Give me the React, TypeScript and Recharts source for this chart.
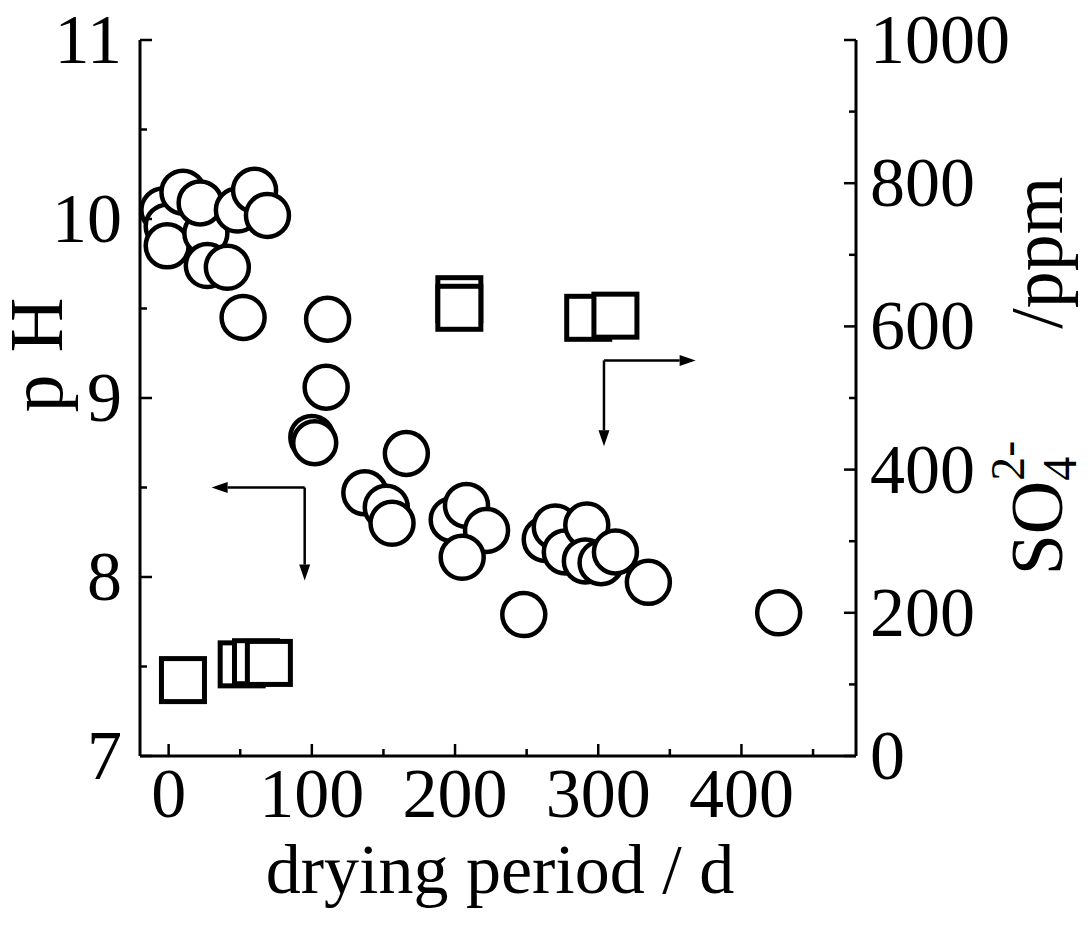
import { ScatterChart, Scatter, XAxis, YAxis, ReferenceLine } from "recharts";

const FONT = '"Liberation Serif", "Times New Roman", serif';

// pH (circles, left axis)
const phDays = [
  -4, -1, -1, 26, 10, 22, 48, 60, 69, 27, 41, 52, 111, 110, 100, 102, 166, 137, 152, 156,
  198, 208, 222, 205, 248, 263, 270, 277, 292, 291, 302, 312, 335, 426,
];
const phValues = [
  10.05, 9.96, 9.85, 9.92, 10.15, 10.09, 10.05, 10.16, 10.02, 9.74, 9.73, 9.45, 9.44, 9.06, 8.78,
  8.75, 8.69, 8.47, 8.39, 8.3, 8.32, 8.4, 8.26, 8.11, 7.79, 8.21, 8.28, 8.14, 8.29, 8.09, 8.08,
  8.14, 7.97, 7.8,
];

// sulfate (squares, right axis)
const so4Days = [10, 51, 61, 70, 203, 203, 293, 312];
const so4Values = [106, 128, 131, 130, 638, 626, 612, 615];

const xTicks = [0, 50, 100, 150, 200, 250, 300, 350, 400, 450];
const phTicks = [7, 7.5, 8, 8.5, 9, 9.5, 10, 10.5, 11];
const so4Ticks = [0, 100, 200, 300, 400, 500, 600, 700, 800, 900, 1000];

// annotation arrows: [cornerDay, cornerPH, endDay, endPH] (left axis units)
const arrowLeft = [95, 8.5, 30, 7.98];
const arrowRight = [304, 9.21, 368, 8.73];

const phData = phDays.map((x, i) => ({ x, y: phValues[i] }));
const so4Data = so4Days.map((x, i) => ({ x, y: so4Values[i] }));

const AXIS = { stroke: "#000", strokeWidth: 3 };
const TICK_FS = 70;

const BottomTick = (p: any) => {
  const v = p.payload.value;
  const major = v % 100 === 0;
  return (
    <g>
      <line x1={p.x} x2={p.x} y1={p.y} y2={p.y - (major ? 12 : 7)} stroke="#000" strokeWidth={2.5} />
      {major && (
        <text x={p.x} y={p.y + 61} textAnchor="middle" fontSize={TICK_FS} fontFamily={FONT} fill="#000">
          {v}
        </text>
      )}
    </g>
  );
};

const TopTick = (p: any) => {
  const major = p.payload.value % 100 === 0;
  return <line x1={p.x} x2={p.x} y1={p.y} y2={p.y + (major ? 12 : 7)} stroke="#000" strokeWidth={2.5} />;
};

const LeftTick = (p: any) => {
  const v = p.payload.value;
  const major = Number.isInteger(v);
  return (
    <g>
      <line x1={p.x} x2={p.x + (major ? 12 : 7)} y1={p.y} y2={p.y} stroke="#000" strokeWidth={2.5} />
      {major && (
        <text x={p.x - 18} y={p.y + 23} textAnchor="end" fontSize={TICK_FS} fontFamily={FONT} fill="#000">
          {v}
        </text>
      )}
    </g>
  );
};

const RightTick = (p: any) => {
  const v = p.payload.value;
  const major = v % 200 === 0;
  return (
    <g>
      <line x1={p.x} x2={p.x - (major ? 12 : 7)} y1={p.y} y2={p.y} stroke="#000" strokeWidth={2.5} />
      {major && (
        <text x={p.x + 14} y={p.y + 23} textAnchor="start" fontSize={TICK_FS} fontFamily={FONT} fill="#000">
          {v}
        </text>
      )}
    </g>
  );
};

const arrowShape = (p: any) => {
  const { x1, y1, x2, y2 } = p;
  const ang = Math.atan2(y2 - y1, x2 - x1);
  const L = 16;
  const W = 5.5;
  const bx = x2 - L * Math.cos(ang);
  const by = y2 - L * Math.sin(ang);
  const nx = -Math.sin(ang) * W;
  const ny = Math.cos(ang) * W;
  return (
    <g>
      <line x1={x1} y1={y1} x2={bx} y2={by} stroke="#000" strokeWidth={2.5} />
      <polygon points={`${x2},${y2} ${bx + nx},${by + ny} ${bx - nx},${by - ny}`} fill="#000" />
    </g>
  );
};

const circleShape = (p: any) => (
  <circle cx={p.cx} cy={p.cy} r={21.5} fill="#fff" stroke="#000" strokeWidth={4.5} />
);

const squareShape = (p: any) => (
  <rect x={p.cx - 21.5} y={p.cy - 21.5} width={43} height={43} fill="#fff" stroke="#000" strokeWidth={5} />
);

const XTitle = () => (
  <text x={500} y={893} textAnchor="middle" fontSize={70} fontFamily={FONT} fill="#000">
    drying period / d
  </text>
);

const LeftTitle = () => (
  <text transform="translate(62,355) rotate(-90)" textAnchor="middle" fontSize={76} fontFamily={FONT} fill="#000">
    p<tspan dx={22}>H</tspan>
  </text>
);

const RightTitle = () => (
  <text transform="translate(1062,376) rotate(-90)" textAnchor="middle" fontSize={74} fontFamily={FONT} fill="#000">
    SO
    <tspan fontSize={48} dy={14}>4</tspan>
    <tspan fontSize={48} dx={-24} dy={-52}>2-</tspan>
    <tspan dx={112} dy={38}>/ppm</tspan>
  </text>
);

export default function App() {
  return (
    <div style={{ position: "absolute", left: 0, top: 0, background: "#fff" }}>
      <ScatterChart width={1088} height={934} margin={{ top: 40, right: 32, bottom: 78, left: 40 }}>
        <XAxis
          xAxisId="b"
          type="number"
          dataKey="x"
          domain={[-20, 480]}
          ticks={xTicks}
          interval={0}
          allowDataOverflow
          height={100}
          tickSize={0}
          tickMargin={0}
          axisLine={AXIS}
          tick={BottomTick}
          label={{ content: XTitle }}
        />
        <XAxis
          xAxisId="t"
          orientation="top"
          type="number"
          dataKey="x"
          domain={[-20, 480]}
          ticks={xTicks}
          interval={0}
          allowDataOverflow
          height={0}
          tickSize={0}
          tickMargin={0}
          axisLine={AXIS}
          tick={TopTick}
        />
        <YAxis
          yAxisId="ph"
          type="number"
          dataKey="y"
          domain={[7, 11]}
          ticks={phTicks}
          interval={0}
          allowDataOverflow
          width={100}
          tickSize={0}
          tickMargin={0}
          axisLine={AXIS}
          tick={LeftTick}
          label={{ content: LeftTitle }}
        />
        <YAxis
          yAxisId="so4"
          orientation="right"
          type="number"
          dataKey="y"
          domain={[0, 1000]}
          ticks={so4Ticks}
          interval={0}
          allowDataOverflow
          width={200}
          tickSize={0}
          tickMargin={0}
          axisLine={AXIS}
          tick={RightTick}
          label={{ content: RightTitle }}
        />
        <ReferenceLine
          xAxisId="b"
          yAxisId="ph"
          ifOverflow="visible"
          segment={[{ x: arrowLeft[0], y: arrowLeft[1] }, { x: arrowLeft[2], y: arrowLeft[1] }]}
          shape={arrowShape}
        />
        <ReferenceLine
          xAxisId="b"
          yAxisId="ph"
          ifOverflow="visible"
          segment={[{ x: arrowLeft[0], y: arrowLeft[1] }, { x: arrowLeft[0], y: arrowLeft[3] }]}
          shape={arrowShape}
        />
        <ReferenceLine
          xAxisId="b"
          yAxisId="ph"
          ifOverflow="visible"
          segment={[{ x: arrowRight[0], y: arrowRight[1] }, { x: arrowRight[2], y: arrowRight[1] }]}
          shape={arrowShape}
        />
        <ReferenceLine
          xAxisId="b"
          yAxisId="ph"
          ifOverflow="visible"
          segment={[{ x: arrowRight[0], y: arrowRight[1] }, { x: arrowRight[0], y: arrowRight[3] }]}
          shape={arrowShape}
        />
        <Scatter xAxisId="b" yAxisId="so4" data={so4Data} shape={squareShape} isAnimationActive={false} />
        <Scatter xAxisId="b" yAxisId="ph" data={phData} shape={circleShape} isAnimationActive={false} />
      </ScatterChart>
    </div>
  );
}
